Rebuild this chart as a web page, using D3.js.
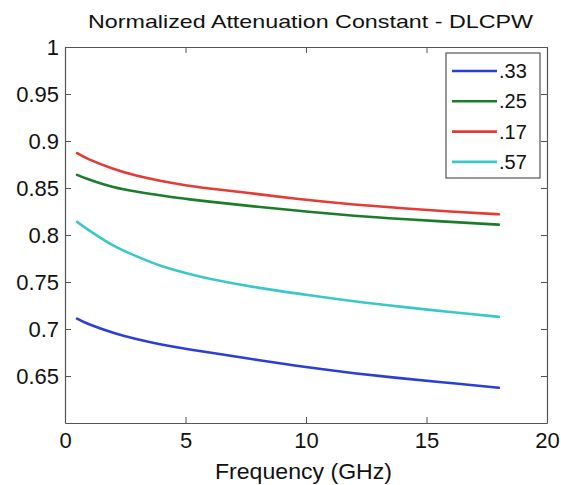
<!DOCTYPE html>
<html>
<head>
<meta charset="utf-8">
<script src="https://cdn.jsdelivr.net/npm/d3@7"></script>
<style>
  html, body { margin: 0; padding: 0; background: #fff; }
  svg { display: block; font-family: "Liberation Sans", Arial, Helvetica, sans-serif; }
</style>
</head>
<body>
<svg id="chart" width="561" height="485"></svg>
<script>
// Frequency samples (GHz)
const freq = [0.5, 1, 2, 3, 4, 5, 6, 8, 10, 12, 14, 16, 18];

// Normalized attenuation constant for each strip ratio
const series033 = [0.711, 0.705, 0.696, 0.689, 0.6835, 0.679, 0.675, 0.667, 0.6595, 0.653, 0.6475, 0.6425, 0.6375];
const series025 = [0.864, 0.859, 0.851, 0.846, 0.842, 0.8385, 0.8355, 0.830, 0.825, 0.8205, 0.817, 0.814, 0.811];
const series017 = [0.887, 0.8805, 0.8705, 0.863, 0.8575, 0.853, 0.8495, 0.8435, 0.8375, 0.8325, 0.8285, 0.825, 0.822];
const series057 = [0.814, 0.805, 0.789, 0.777, 0.767, 0.7595, 0.7535, 0.744, 0.7365, 0.7295, 0.7235, 0.718, 0.713];

const legendLabels = [".33", ".25", ".17", ".57"];
const seriesColors = ["#2b3fd6", "#1b7d2b", "#e33b35", "#3cc8c8"];

const xTicks = [0, 5, 10, 15, 20];
const yTicks = [0.65, 0.7, 0.75, 0.8, 0.85, 0.9, 0.95, 1];

const titleText = "Normalized Attenuation Constant - DLCPW";
const xLabelText = "Frequency (GHz)";

const seriesList = [series033, series025, series017, series057].map((vals, i) => ({
  label: legendLabels[i],
  color: seriesColors[i],
  points: freq.map((f, j) => ({ f, v: vals[j] }))
}));

const svg = d3.select("#chart");
const plot = { left: 65, right: 547, top: 47, bottom: 423 };

const x = d3.scaleLinear().domain([0, 20]).range([plot.left, plot.right]);
const y = d3.scaleLinear().domain([0.6, 1]).range([plot.bottom, plot.top]);

const axisColor = "#555";
const tickLen = 6;

// Axes with inward ticks on all four sides (boxed frame)
function styleAxis(g) {
  g.selectAll(".domain").attr("stroke", axisColor).attr("stroke-width", 1.2);
  g.selectAll(".tick line").attr("stroke", axisColor);
  g.selectAll(".tick text").attr("fill", "#111").attr("font-size", 22)
    .attr("font-family", "Liberation Sans, Arial, sans-serif");
}

svg.append("g")
  .attr("transform", `translate(0,${plot.bottom})`)
  .call(d3.axisBottom(x).tickValues(xTicks).tickFormat(d3.format("d"))
    .tickSizeInner(-tickLen).tickSizeOuter(0).tickPadding(9))
  .call(styleAxis);

svg.append("g")
  .attr("transform", `translate(0,${plot.top})`)
  .call(d3.axisTop(x).tickValues(xTicks).tickFormat("")
    .tickSizeInner(-tickLen).tickSizeOuter(0))
  .call(styleAxis);

svg.append("g")
  .attr("transform", `translate(${plot.left},0)`)
  .call(d3.axisLeft(y).tickValues(yTicks).tickFormat(d => d === 1 ? "1" : d3.format(".2~f")(d))
    .tickSizeInner(-tickLen).tickSizeOuter(0).tickPadding(6))
  .call(styleAxis);

svg.append("g")
  .attr("transform", `translate(${plot.right},0)`)
  .call(d3.axisRight(y).tickValues(yTicks).tickFormat("")
    .tickSizeInner(-tickLen).tickSizeOuter(0))
  .call(styleAxis);

// Curves
const line = d3.line()
  .x(d => x(d.f))
  .y(d => y(d.v))
  .curve(d3.curveNatural);

svg.append("g").selectAll("path")
  .data(seriesList)
  .join("path")
  .attr("fill", "none")
  .attr("stroke", d => d.color)
  .attr("stroke-width", 2.6)
  .attr("stroke-linejoin", "round")
  .attr("stroke-linecap", "round")
  .attr("d", d => line(d.points));

// Title and axis label
svg.append("text")
  .attr("x", 88)
  .attr("y", 28)
  .attr("font-size", 19)
  .attr("fill", "#111")
  .attr("textLength", 445)
  .attr("lengthAdjust", "spacingAndGlyphs")
  .text(titleText);

svg.append("text")
  .attr("x", 215)
  .attr("y", 479)
  .attr("font-size", 22)
  .attr("fill", "#111")
  .attr("textLength", 177)
  .attr("lengthAdjust", "spacingAndGlyphs")
  .text(xLabelText);

// Legend
const legend = svg.append("g");
legend.append("rect")
  .attr("x", 446).attr("y", 53)
  .attr("width", 94).attr("height", 125)
  .attr("fill", "#fff")
  .attr("stroke", axisColor)
  .attr("stroke-width", 1.2);

const legendRows = legend.selectAll("g.row")
  .data(seriesList)
  .join("g")
  .attr("class", "row")
  .attr("transform", (d, i) => `translate(0,${71 + i * 30.3})`);

legendRows.append("line")
  .attr("x1", 452).attr("x2", 497)
  .attr("y1", 0).attr("y2", 0)
  .attr("stroke", d => d.color)
  .attr("stroke-width", 2.6);

legendRows.append("text")
  .attr("x", 499)
  .attr("y", 7)
  .attr("font-size", 20)
  .attr("fill", "#111")
  .text(d => d.label);
</script>
</body>
</html>
